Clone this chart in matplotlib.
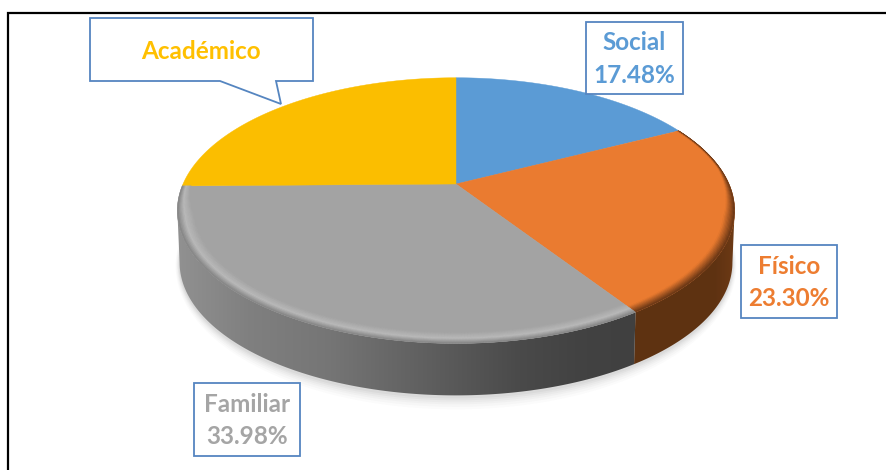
import numpy as np
import matplotlib
matplotlib.use("Agg")
import matplotlib.pyplot as plt
from matplotlib.collections import PolyCollection
from matplotlib.patches import Polygon, Rectangle
from matplotlib.colors import to_rgb

plt.rcParams['font.family'] = ['Lato', 'DejaVu Sans']

categories = ["Social", "Físico", "Familiar", "Académico"]
values = [17.48, 23.30, 33.98, 25.24]
labels = ["Social\n17.48%", "Físico\n23.30%", "Familiar\n33.98%", "Académico"]
face_colors = ["#5B9BD5", "#ED7D31", "#A5A5A5", "#FFC000"]
top_colors = ["#5B9BD5", "#EA7B30", "#A3A3A3", "#FBBE00"]

# projection of the pie disc (perspective), pixel units
CX, CY, BX, BY, K, DEPTH, SHRINK = 456.0, 184.0, 273.0, 127.5, 0.2, 52.0, 0.992


def proj(t, r=1.0):
    u, v = r * np.sin(t), r * np.cos(t)
    d = 1 + K * v
    return CX + BX * u / d, CY - BY * v / d


def proj_bottom(t):
    x, y = proj(t)
    return CX + (x - CX) * SHRINK, y + DEPTH


fracs = np.array(values) / sum(values)
edges = np.concatenate([[0], np.cumsum(fracs)]) * 2 * np.pi

fig = plt.figure(figsize=(8.86, 4.70), dpi=100)
ax = fig.add_axes([0, 0, 1, 1])

# frame
ax.plot([8.5, 8.5, 886], [470, 13, 13], color="black", lw=1.6, zorder=1,
        solid_joinstyle="miter")

# soft shadow under the pie
tt = np.linspace(0, 2 * np.pi, 361)
for grow, alpha in zip([13, 10.5, 8, 6, 4, 2], [.025, .03, .035, .04, .05, .06]):
    x, y = proj_bottom(tt)
    mx = CX + (x - CX) * (1 + 0.3 * grow / 273)
    my = CY + DEPTH + (y - CY - DEPTH) * (1 + grow / 160)
    ax.add_patch(Polygon(np.c_[mx, my + 1], closed=True, fc="#606060", ec="none",
                         alpha=alpha, zorder=2))


def lerp(a, b, w):
    a, b = np.array(to_rgb(a)), np.array(to_rgb(b))
    return tuple(a + (b - a) * np.clip(w, 0, 1))


def side_rgb(i, x):
    if i == 1:
        r = np.interp(x, [640, 715, 735], [0.370, 0.370, 0.43])
        return np.stack([r, r * 0.53, r * 0.19], axis=-1)
    g = np.interp(x, [176, 250, 330, 430, 520, 580, 640],
                  [0.57, 0.50, 0.46, 0.37, 0.29, 0.26, 0.25])
    return np.stack([g, g, g], axis=-1)


# side wall: smooth horizontal gradient clipped to the part of each slice's
# rim that faces the viewer (up to the silhouette tangent)
tangent = np.arccos(-K)
xgrid = np.arange(170, 745) + 0.5
for i in [1, 2]:
    lo = max(edges[i], tangent)
    hi = min(edges[i + 1], 2 * np.pi - tangent)
    ts = np.linspace(lo, hi, 300)
    xt, yt = proj(ts)
    xb, yb = proj_bottom(ts)
    outline = np.vstack([np.c_[xt, yt], np.c_[xb, yb][::-1]])
    img = side_rgb(i, xgrid)[None, :, :]
    im = ax.imshow(img, extent=(170, 745, 400, 70), aspect="auto",
                   interpolation="bilinear", zorder=3)
    im.set_clip_path(Polygon(outline, closed=True, transform=ax.transData))

ax.set_xlim(0, 886)
ax.set_ylim(470, 0)
ax.axis("off")

# top faces
for i in range(4):
    ts = np.linspace(edges[i], edges[i + 1], 200)
    x, y = proj(ts)
    pts = np.vstack([[CX, CY], np.c_[x, y]])
    ax.add_patch(Polygon(pts, closed=True, fc=top_colors[i], ec=top_colors[i], lw=0.3, zorder=4))

# bevel on the front rim of the top face
rs = np.linspace(0.94, 1.0, 14)
polys, cols = [], []
for i in [1, 2]:
    ts = np.linspace(edges[i], edges[i + 1], 240)
    for a, b in zip(ts[:-1], ts[1:]):
        vis = np.clip((0.25 - np.cos(a)) / 0.5, 0.25, 1)
        for r0, r1 in zip(rs[:-1], rs[1:]):
            rr0 = 1 - (1 - r0) * vis
            rr1 = 1 - (1 - r1) * vis
            s = (r0 - rs[0]) / (rs[-1] - rs[0])
            if i == 2:
                if s < 0.55:
                    c = lerp("#A3A3A3", "#BABABA", s / 0.55)
                else:
                    c = lerp("#BABABA", "#7E7E7E", (s - 0.55) / 0.45)
            else:
                c = lerp("#EA7B30", "#653515", (s - 0.35) / 0.6)
            xa0, ya0 = proj(a, rr0)
            xb0, yb0 = proj(b, rr0)
            xa1, ya1 = proj(a, rr1)
            xb1, yb1 = proj(b, rr1)
            polys.append([(xa0, ya0), (xb0, yb0), (xb1, yb1), (xa1, ya1)])
            cols.append(c)
ax.add_collection(PolyCollection(polys, facecolors=cols, edgecolors=cols, linewidths=0.3, zorder=5))

# label boxes
BOX = "#5585C0"
text_kw = dict(ha="center", va="center", fontsize=17.5, fontweight="bold", linespacing=1.5, zorder=8)
boxes = [(586, 22, 97, 72), (741, 245, 96, 73), (194, 383, 106, 73)]
for i, (bx, by, bw, bh) in enumerate(boxes):
    ax.add_patch(Rectangle((bx, by), bw, bh, fc="white", ec=BOX, lw=1.3, zorder=7))
    ax.text(bx + bw / 2, by + bh / 2 + 1, labels[i], color=face_colors[i], **text_kw)

# callout of the last slice
call = [(90, 18), (313, 18), (313, 81), (276, 81), (281, 104), (220, 81), (90, 81)]
ax.add_patch(Polygon(call, closed=True, fc="white", ec=BOX, lw=1.3, zorder=7, joinstyle="miter"))
ax.text(201, 51.5, labels[3], color=face_colors[3], **text_kw)

fig.savefig("out.png", dpi=100)
